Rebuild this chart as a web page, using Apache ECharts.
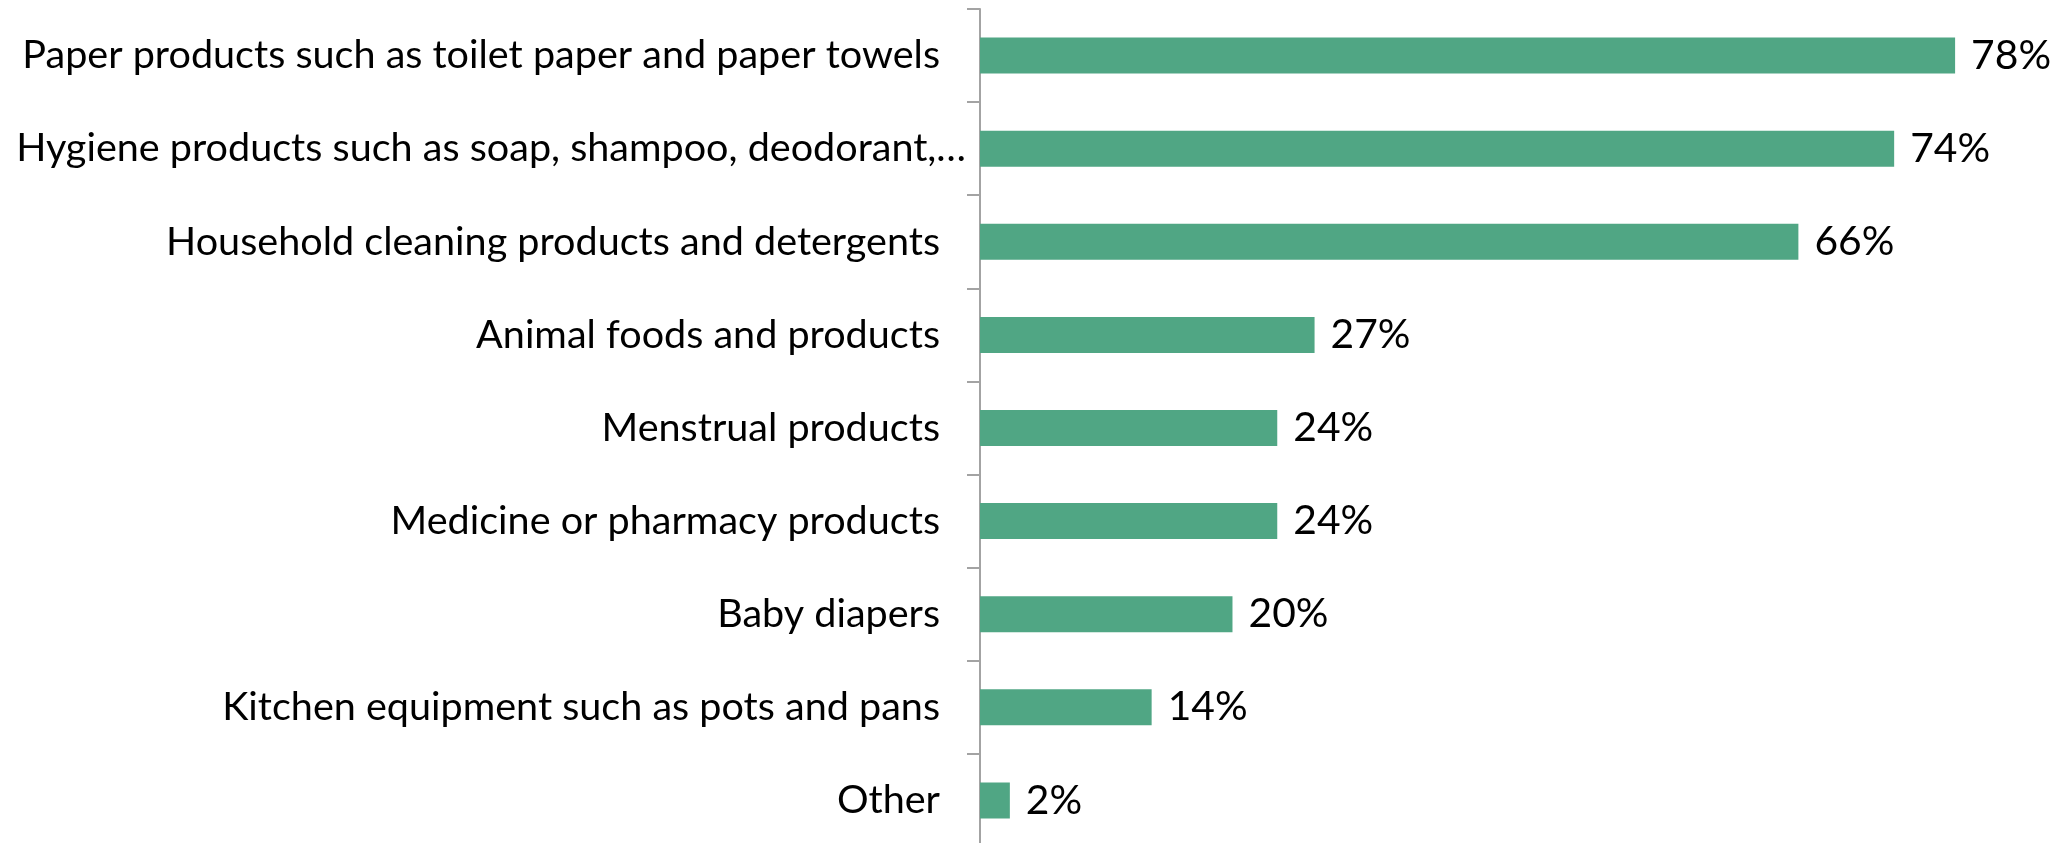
<!DOCTYPE html>
<html>
<head>
<meta charset="utf-8">
<script src="https://cdn.jsdelivr.net/npm/echarts@6/dist/echarts.min.js"></script>
<style>
  html, body { margin: 0; padding: 0; background: #fff; }
  #chart { width: 2071px; height: 843px; }
</style>
</head>
<body>
<div id="chart"></div>
<script>
const categories = [
  'Paper products such as toilet paper and paper towels',
  'Hygiene products such as soap, shampoo, deodorant,…',
  'Household cleaning products and detergents',
  'Animal foods and products',
  'Menstrual products',
  'Medicine or pharmacy products',
  'Baby diapers',
  'Kitchen equipment such as pots and pans',
  'Other'
]
const shares = [78.4, 73.5, 65.8, 26.9, 23.9, 23.9, 20.3, 13.8, 2.4]

const fontFamily = 'Lato, "Open Sans", sans-serif'

// fit font sizes to the widths measured on the reference
const ctx = document.createElement('canvas').getContext('2d')
const fitSize = (text, target) => {
  ctx.font = '100px ' + fontFamily
  return 100 * target / ctx.measureText(text).width
}

const chart = echarts.init(document.getElementById('chart'))

const build = () => {
  const catSize = Math.min(fitSize(categories[0], 925), fitSize(categories[1], 950))
  const valSize = fitSize('78%', 80)

  const option = {
    animation: false,
    grid: {
      left: 980,
      top: 9,
      width: 995,
      height: 838,
      containLabel: false,
      outerBoundsMode: 'none'
    },
    xAxis: {
      type: 'value',
      min: 0,
      max: 80,
      show: false,
      splitLine: { show: false }
    },
    yAxis: {
      type: 'category',
      inverse: true,
      data: categories,
      axisLine: { show: true, lineStyle: { color: '#a3a3a3', width: 2 } },
      axisTick: { show: true, length: 13, interval: 0, lineStyle: { color: '#a3a3a3', width: 2 } },
      axisLabel: {
        margin: 40,
        color: '#000',
        fontFamily: fontFamily,
        fontSize: catSize,
        interval: 0,
        // the truncated label sits a bit closer to the axis in the original
        formatter: (v, i) => i === 1 ? '{h|' + v + '}' : v,
        rich: {
          h: { fontFamily: fontFamily, fontSize: catSize, color: '#000', padding: [0, -26, 0, 0] }
        }
      }
    },
    series: [
      {
        type: 'bar',
        data: shares,
        barWidth: 36,
        itemStyle: { color: '#50a684' },
        label: {
          show: true,
          position: 'right',
          distance: 16,
          color: '#000',
          fontFamily: fontFamily,
          fontSize: valSize,
          formatter: (p) => Math.round(p.value) + '%'
        }
      }
    ]
  }
  chart.setOption(option)
}

if (document.fonts && document.fonts.load) {
  document.fonts.load('30px Lato').then(build, build)
} else {
  build()
}
</script>
</body>
</html>
